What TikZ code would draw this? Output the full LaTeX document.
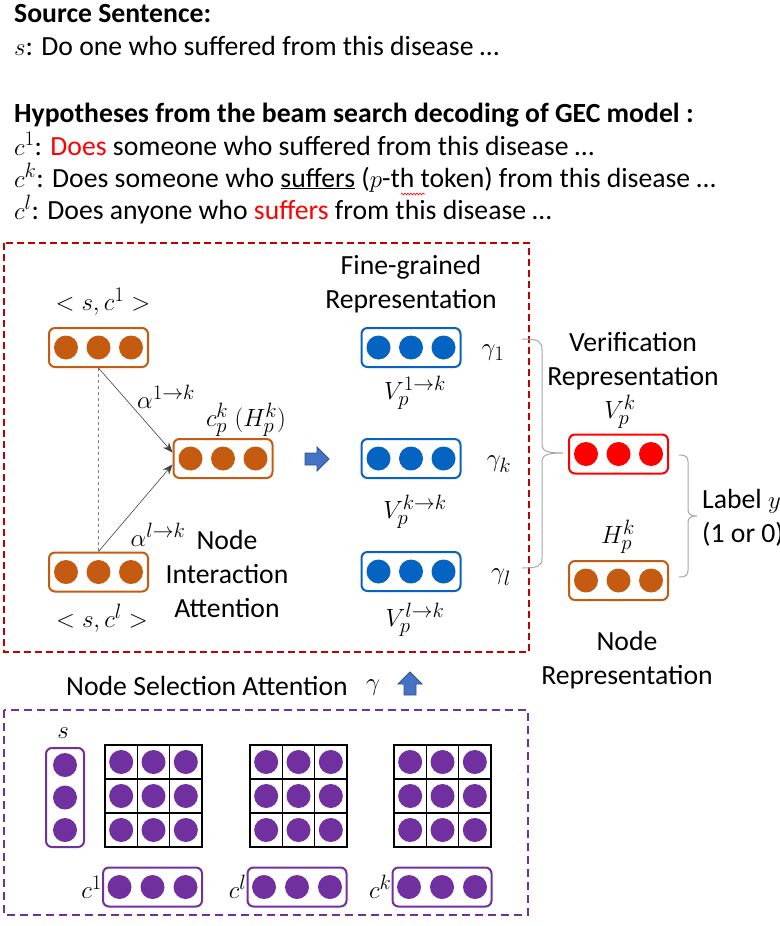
\documentclass[tikz,border=0pt]{standalone}
\usepackage{fontspec}
\setmainfont{Carlito}
\usetikzlibrary{shapes.geometric,arrows.meta,decorations.pathmorphing}
\definecolor{orng}{HTML}{C55A11}
\definecolor{blu}{HTML}{0563C1}
\definecolor{purp}{HTML}{7030A0}
\definecolor{redd}{HTML}{FF0000}
\definecolor{dred}{HTML}{C00000}
\definecolor{arrblue}{HTML}{4472C4}
\definecolor{arrbord}{HTML}{2F528F}
\definecolor{brc}{HTML}{A6A6A6}
\newcommand\tribox[6]{%
  \node[vbox=#4] (#1) at (#2,#3) {};
  \node[dot=#5] (#1-1) at ([xshift=-#6pt]#1.center) {};
  \node[dot=#5] (#1-2) at (#1.center) {};
  \node[dot=#5] (#1-3) at ([xshift=#6pt]#1.center) {};
}
\begin{document}
\begin{tikzpicture}[x=1pt,y=-1pt,
  vbox/.style={draw=#1, line width=2pt, rounded corners=6pt, minimum width=99pt, minimum height=39pt, inner sep=0pt},
  dot/.style={circle, fill=#1, minimum size=24pt, inner sep=0pt},
  cell/.style={draw=black, line width=1.2pt, minimum width=32.33pt, minimum height=34pt, inner sep=0pt},
  lbl/.style={font=\fontsize{27.7}{34}\selectfont, inner sep=0pt},
  toptext/.style={font=\fontsize{27.7}{32}\selectfont, inner sep=0pt, anchor=base west},
  attn/.style={-{Stealth[length=10pt,width=8pt]}, draw=black!75, line width=0.6pt},
  bracec/.style={draw=brc, line width=1pt},
  blockarr/.style={draw=arrbord, fill=arrblue, line width=0.8pt, line join=miter}
]
\useasboundingbox (0,0) rectangle (779,926);

% ---- top text
\node[toptext] (src) at (14,23) {\textbf{Source Sentence:}};
\node[toptext] (sline) at (14,55) {$s$: Do one who suffered from this disease …};
\node[toptext] (hyp) at (14,122) {\textbf{Hypotheses from the beam search decoding of GEC model :}};
\node[toptext] (c1line) at (14,155) {$c^1$: \textcolor{redd}{Does} someone who suffered from this disease …};
\node[toptext] (ckline) at (14,187) {$c^k$: Does someone who \underline{suffers} ($p$-th token) from this disease …};
\node[toptext] (clline) at (14,219) {$c^l$: Does anyone who \textcolor{redd}{suffers} from this disease …};
\draw[redd, line width=0.6pt, decorate, decoration={snake, amplitude=0.9pt, segment length=3pt}] (401,194) -- (425,194);

% ---- red dashed region
\draw[dred, line width=1.2pt, dash pattern=on 7pt off 4pt] (4,243) rectangle (529,652);

\node[lbl] (lc1) at (103,302) {$<s,c^{1}>$};
\node[lbl] (lcl) at (102,618) {$<s,c^{l}>$};
\tribox{c1}{98.5}{347.5}{orng}{orng}{32.5}
\tribox{cpk}{223}{458.5}{orng}{orng}{32.5}
\tribox{cl}{98.5}{572}{orng}{orng}{32.5}
\draw[dashed, draw=black!50, line width=0.5pt] (c1.south) -- (cl.north);
\draw[attn] (c1.south) -- ([yshift=6pt]cpk.west);
\draw[attn] (cl.north) -- ([yshift=-6pt]cpk.west);
\node[lbl] (a1) at (166,397) {$\alpha^{1\to k}$};
\node[lbl] (ackl) at (246,420) {$c_p^k\ (H_p^k)$};
\node[lbl] (al) at (158,535) {$\alpha^{l\to k}$};
\node[lbl, align=center] (nia) at (227,574) {Node\\Interaction\\Attention};

\draw[blockarr] (305,453) -- (317,453) -- (317,447) -- (329,459) -- (317,471) -- (317,465) -- (305,465) -- cycle;

\node[lbl, align=center] (fgr) at (411,284) {Fine-grained\\Representation};
\tribox{v1}{411}{347.5}{blu}{blu}{32.5}
\tribox{vk}{411}{458.5}{blu}{blu}{32.5}
\tribox{vl}{411}{571.5}{blu}{blu}{32.5}
\node[lbl] (lv1) at (415,393) {$V_p^{1\to k}$};
\node[lbl] (lvk) at (415,512) {$V_p^{k\to k}$};
\node[lbl] (lvl) at (415,620) {$V_p^{l\to k}$};
\node[lbl] (g1) at (493,353) {$\gamma_1$};
\node[lbl] (gk) at (499,464) {$\gamma_k$};
\node[lbl] (gl) at (501,577) {$\gamma_l$};

% ---- right part
\draw[bracec] (522,339) .. controls (538,339) and (542,341) .. (542,350) -- (542,444)
  .. controls (542,451) and (547,453) .. (563,453)
  .. controls (547,453) and (542,455) .. (542,462) -- (542,558)
  .. controls (542,566) and (538,568) .. (522,568);
\node[lbl, align=center] (verr) at (633,361) {Verification\\Representation};
\node[lbl] (lvpk) at (620,412) {$V_p^k$};
\tribox{vpk}{618.5}{454}{redd}{redd}{32.5}
\node[lbl] (lhpk) at (618,537) {$H_p^k$};
\tribox{hpk}{618.5}{580.5}{orng}{orng}{32.5}
\draw[bracec] (679,455) .. controls (686,455) and (688,457) .. (688,462) -- (688,509)
  .. controls (688,514) and (690,516) .. (697,516)
  .. controls (690,516) and (688,518) .. (688,523) -- (688,570)
  .. controls (688,575) and (686,577) .. (679,577);
\node[lbl, align=left, anchor=west] (lab) at (702,518) {Label $y$\\(1 or 0)};
\node[lbl, align=center] (nrep) at (627,660) {Node\\Representation};

% ---- node selection
\node[lbl, anchor=west] (nsa) at (66,686) {Node Selection Attention};
\node[lbl] (gam) at (373,688) {$\gamma$};
\draw[blockarr] (404,695) -- (404,684) -- (398,684) -- (410,672) -- (422,684) -- (416,684) -- (416,695) -- cycle;

% ---- purple dashed region
\draw[purp, line width=1.2pt, dash pattern=on 8pt off 5pt] (4,710) rectangle (528,915);
\node[lbl] (ls) at (63,733) {$s$};
\node[draw=purp, line width=2pt, rounded corners=6pt, minimum width=38pt, minimum height=99pt, inner sep=0pt] (sb) at (65,797.5) {};
\node[dot=purp] (sb-1) at ([yshift=32.5pt]sb.center) {};
\node[dot=purp] (sb-2) at (sb.center) {};
\node[dot=purp] (sb-3) at ([yshift=-32.5pt]sb.center) {};
\foreach \g/\gx in {A/105,B/250,C/394}{
  \foreach \i in {0,1,2}{
    \foreach \j in {0,1,2}{
      \node[cell] (g\g-\i-\j) at ({\gx+16.17+\i*32.33},{762+\j*34}) {};
      \node[dot=purp] (gd\g-\i-\j) at (g\g-\i-\j) {};
    }
  }
}
\tribox{pc1}{152.5}{887}{purp}{purp}{33}
\tribox{pcl}{297}{887}{purp}{purp}{33}
\tribox{pck}{442}{887}{purp}{purp}{33}
\node[lbl, anchor=east] (lpc1) at (pc1.west) {$c^{1}$};
\node[lbl, anchor=east] (lpcl) at (pcl.west) {$c^{l}$};
\node[lbl, anchor=east] (lpck) at (pck.west) {$c^{k}$};
\end{tikzpicture}
\end{document}
